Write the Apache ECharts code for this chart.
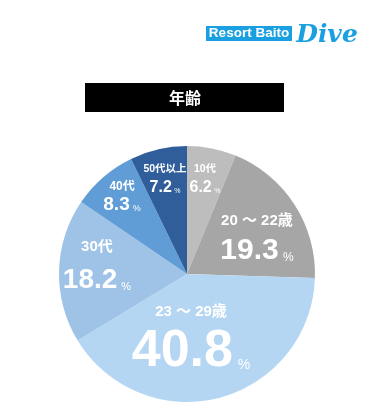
<!DOCTYPE html>
<html>
<head>
<meta charset="utf-8">
<script src="https://cdn.jsdelivr.net/npm/echarts@6/dist/echarts.min.js"></script>
<style>html,body{margin:0;padding:0;background:#fff;}#c{width:371px;height:413px;}</style>
</head>
<body>
<div id="c"></div>
<script>
// ---- data ----
const categories = ['10代', '20 〜 22歳', '23 〜 29歳', '30代', '40代', '50代以上'];
const values = [6.2, 19.3, 40.8, 18.2, 8.3, 7.2];
const chartTitle = '年齢';
const logoBox = 'Resort Baito';
const logoScript = 'Dive';

// ---- styles ----
const colors = ['#bdbdbd', '#a6a6a6', '#b5d6f3', '#9fc3e7', '#609cd6', '#2f5e9a'];
// [radial fraction, angle shift deg]
const labelPlace = [[0.759, -0.5], [0.622, 4.4], [0.454, 10.8], [0.708, 4.9], [0.793, 1.1], [0.766, 0]];
// [name size, value size, pct size, line height]
const labelSizes = [[10.5, 16, 7, 18], [15, 30, 12, 30], [15, 52, 14, 39.5], [15, 28, 11, 33.5], [12, 19, 9, 18.3], [10.5, 16, 7, 18]];

const CX = 187, CY = 274, R = 128;
const FONT = '"Liberation Sans", "Noto Sans CJK JP", sans-serif';
const total = values.reduce((a, b) => a + b, 0);

const data = values.map((v, i) => {
  const s = labelSizes[i];
  return {
    value: v,
    name: categories[i],
    itemStyle: { color: colors[i] },
    label: {
      formatter: '{n|' + categories[i] + '}\n{v|' + v.toFixed(1) + '}{p|%}',
      rich: {
        n: { fontSize: s[0], fontWeight: 'bold', color: '#fff', fontFamily: FONT, lineHeight: s[3] },
        v: { fontSize: s[1], fontWeight: 'bold', color: '#fff', fontFamily: FONT, lineHeight: s[3] },
        p: { fontSize: s[2], color: '#fff', fontFamily: FONT, lineHeight: 4, padding: [0.72 * (s[1] - s[2]), 0, 0, s[2] * 0.35] }
      }
    }
  };
});

const chart = echarts.init(document.getElementById('c'), null, { renderer: 'canvas' });
chart.setOption({
  backgroundColor: '#ffffff',
  animation: false,
  graphic: [
    { type: 'rect', shape: { x: 206, y: 26, width: 86, height: 15 }, style: { fill: '#1a9fe0' } },
    { type: 'text', x: 249, y: 33.5, style: { text: logoBox, fill: '#fff', font: 'bold 13.5px "Liberation Sans", sans-serif', align: 'center', verticalAlign: 'middle' } },
    { type: 'text', x: 327, y: 35, style: { text: logoScript, fill: '#1a9fe0', font: 'italic bold 25px "DejaVu Serif", serif', align: 'center', verticalAlign: 'middle' } },
    { type: 'rect', shape: { x: 85, y: 83, width: 199, height: 29 }, style: { fill: '#000' } },
    { type: 'text', x: 185, y: 97.5, style: { text: chartTitle, fill: '#fff', font: 'bold 16px "Noto Sans CJK JP", sans-serif', align: 'center', verticalAlign: 'middle' } }
  ],
  series: [{
    type: 'pie',
    center: [CX, CY],
    radius: [0, R],
    startAngle: 90,
    clockwise: true,
    silent: true,
    emphasis: { disabled: true },
    label: { show: true, position: 'inside', color: '#fff' },
    labelLine: { show: false },
    labelLayout: function (p) {
      const i = p.dataIndex;
      let before = 0;
      for (let k = 0; k < i; k++) before += values[k];
      const mid = (before + values[i] / 2) / total * 360 + labelPlace[i][1];
      const r = R * labelPlace[i][0];
      const a = mid * Math.PI / 180;
      return { x: CX + r * Math.sin(a), y: CY - r * Math.cos(a), align: 'center', verticalAlign: 'middle' };
    },
    data: data
  }]
});
</script>
</body>
</html>
